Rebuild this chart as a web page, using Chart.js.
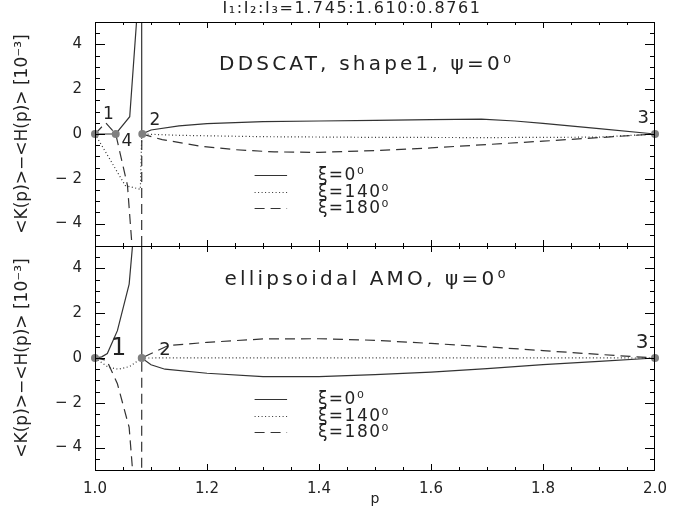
<!DOCTYPE html>
<html>
<head>
<meta charset="utf-8">
<title>K-H difference vs p</title>
<script src="https://cdn.jsdelivr.net/npm/chart.js@4.4.1/dist/chart.umd.min.js"></script>
<style>
  html, body { margin: 0; padding: 0; background: #fff; }
  #wrap { width: 700px; height: 510px; }
</style>
</head>
<body>
<div id="wrap"><canvas id="khChart" width="700" height="510"></canvas></div>
<script>
// values: [p, <K(p)>-<H(p)> in units of 1e-3]
const ddscatXi0 = [[1.000, 0], [1.037, 0], [1.062, 0.77], [1.075, 5.3], [1.0815, 60], [1.0835, 0],
    [1.10, 0.18], [1.15, 0.36], [1.20, 0.46], [1.30, 0.55], [1.40, 0.58], [1.50, 0.61], [1.60, 0.64],
    [1.69, 0.66], [1.75, 0.58], [1.80, 0.47], [1.90, 0.24], [2.00, 0]];
const ddscatXi140 = [[1.000, 0], [1.054, -2.3], [1.081, -2.47], [1.0835, 0], [1.15, -0.06], [1.30, -0.12],
    [1.50, -0.15], [1.70, -0.16], [1.90, -0.14], [2.00, 0]];
const ddscatXi180 = [[1.000, 0], [1.019, 0.5], [1.037, 0], [1.058, -2.3], [1.067, -5.3], [1.0815, -60],
    [1.0835, 0], [1.12, -0.25], [1.19, -0.55], [1.25, -0.7], [1.32, -0.8], [1.40, -0.82], [1.50, -0.74],
    [1.60, -0.62], [1.70, -0.47], [1.80, -0.32], [1.90, -0.16], [2.00, 0]];

const amoXi0 = [[1.000, 0], [1.012, 0.05], [1.022, 0.2], [1.040, 1.22], [1.061, 3.3], [1.068, 5.3],
    [1.0815, 60], [1.0835, 0], [1.10, -0.3], [1.125, -0.5], [1.20, -0.68], [1.30, -0.83], [1.40, -0.83],
    [1.50, -0.74], [1.60, -0.63], [1.70, -0.47], [1.80, -0.3], [1.90, -0.15], [2.00, 0]];
const amoXi140 = [[1.000, 0], [1.024, -0.42], [1.042, -0.5], [1.062, -0.38], [1.0835, 0], [1.30, 0.01],
    [1.60, 0.01], [2.00, 0]];
const amoXi180 = [[1.000, 0], [1.021, -0.1], [1.040, -1.15], [1.061, -3.1], [1.068, -5.3], [1.0815, -60],
    [1.0835, 0], [1.13, 0.55], [1.20, 0.7], [1.30, 0.85], [1.40, 0.86], [1.50, 0.79], [1.60, 0.65],
    [1.70, 0.5], [1.80, 0.33], [1.90, 0.16], [2.00, 0]];

// the grey nodes on the zero line
const ddscatNodes = [[1.000, 0], [1.037, 0], [1.0845, 0], [2.000, 0]];
const amoNodes = [[1.000, 0], [1.0835, 0], [2.000, 0]];

const xTicks = [1.0, 1.2, 1.4, 1.6, 1.8, 2.0];
const yTicks = [-4, -2, 0, 2, 4];
const seriesNames = ['ξ=0⁰', 'ξ=140⁰', 'ξ=180⁰'];
const figureTitle = 'I₁:I₂:I₃=1.745:1.610:0.8761';
const panelTitles = ['DDSCAT, shape1, ψ=0⁰', 'ellipsoidal AMO, ψ=0⁰'];
const yTitle = '<K(p)>−<H(p)> [10⁻³]';

const FONT = 'DejaVu Sans';
const INK = '#222';
const dashes = [[], [1, 2.5], [10, 6]];

const toXY = arr => arr.map(d => ({x: d[0], y: d[1]}));

function lineSet(arr, k, axis) {
    return {
        data: toXY(arr), yAxisID: axis, borderColor: '#333', borderWidth: 1.2,
        borderDash: dashes[k], pointRadius: 0, tension: 0, order: 1
    };
}
function nodeSet(arr, axis) {
    return {
        data: toXY(arr), yAxisID: axis, showLine: false, isNode: true, clip: false,
        pointRadius: 4, pointBackgroundColor: '#808080', pointBorderWidth: 0, order: 0
    };
}

// number labels and in-panel text, placed in data units of each panel
const nodeLabels = [
    {axis: 'yTop', text: '1', p: 1.024, v: 0.86, size: 17},
    {axis: 'yTop', text: '4', p: 1.057, v: -0.33, size: 17},
    {axis: 'yTop', text: '2', p: 1.107, v: 0.62, size: 17},
    {axis: 'yTop', text: '3', p: 1.979, v: 0.71, size: 18},
    {axis: 'yBot', text: '1', p: 1.042, v: 0.41, size: 24},
    {axis: 'yBot', text: '2', p: 1.125, v: 0.33, size: 18},
    {axis: 'yBot', text: '3', p: 1.977, v: 0.69, size: 20}
];

function spacedText(ctx, txt, x, y, spacing, align) {
    ctx.letterSpacing = spacing + 'px';
    ctx.textAlign = align;
    ctx.fillText(txt, x, y);
    ctx.letterSpacing = '0px';
}

const panelPlugin = {
    id: 'panels',
    beforeDatasetDraw(chart, args) {
        const ds = chart.data.datasets[args.index];
        if (ds.isNode) return;
        const ys = args.meta.yScale, a = chart.chartArea, ctx = chart.ctx;
        ctx.save();
        ctx.beginPath();
        ctx.rect(a.left, ys.top, a.right - a.left, ys.bottom - ys.top);
        ctx.clip();
    },
    afterDatasetDraw(chart, args) {
        if (chart.data.datasets[args.index].isNode) return;
        chart.ctx.restore();
    },
    afterDraw(chart) {
        const ctx = chart.ctx, a = chart.chartArea, xs = chart.scales.x;
        ctx.save();
        ctx.strokeStyle = '#000';
        ctx.lineWidth = 1;
        ['yTop', 'yBot'].forEach((id, i) => {
            const ys = chart.scales[id];
            ctx.setLineDash([]);
            ctx.strokeStyle = '#000';
            ctx.lineWidth = 1;
            ctx.strokeRect(a.left + 0.5, ys.top + 0.5, a.right - a.left - 1, ys.bottom - ys.top);
            ctx.beginPath();
            for (let v = -4.5; v <= 4.5; v += 0.5) {
                const y = Math.round(ys.getPixelForValue(v)) + 0.5;
                const len = yTicks.includes(v) ? 10 : 5;
                ctx.moveTo(a.left, y); ctx.lineTo(a.left + len, y);
                ctx.moveTo(a.right, y); ctx.lineTo(a.right - len, y);
            }
            for (let k = 1; k < 20; k++) {
                const p = 1 + k * 0.05;
                const x = Math.round(xs.getPixelForValue(p)) + 0.5;
                const len = k % 4 === 0 ? 6 : 3;
                ctx.moveTo(x, ys.top); ctx.lineTo(x, ys.top + len);
                ctx.moveTo(x, ys.bottom); ctx.lineTo(x, ys.bottom - len);
            }
            ctx.stroke();

            // panel heading
            ctx.fillStyle = INK;
            ctx.textBaseline = 'middle';
            ctx.font = '20px "' + FONT + '"';
            spacedText(ctx, panelTitles[i], xs.getPixelForValue(1.485), ys.getPixelForValue(i === 0 ? 3.1 : 3.5), 3.2, 'center');

            // legend, styles taken from the datasets of this panel
            const sets = chart.data.datasets.filter(d => d.yAxisID === id && !d.isNode);
            sets.forEach((d, k) => {
                const y = Math.round(ys.getPixelForValue(-1.85 - k * 0.72)) + 0.5;
                ctx.strokeStyle = d.borderColor;
                ctx.lineWidth = d.borderWidth;
                ctx.setLineDash(d.borderDash);
                ctx.beginPath();
                ctx.moveTo(xs.getPixelForValue(1.285), y);
                ctx.lineTo(xs.getPixelForValue(1.343), y);
                ctx.stroke();
                ctx.font = '17px "' + FONT + '"';
                spacedText(ctx, seriesNames[k], xs.getPixelForValue(1.398), y, 1.5, 'left');
            });
        });
        ctx.setLineDash([]);
        nodeLabels.forEach(l => {
            const ys = chart.scales[l.axis];
            ctx.font = l.size + 'px "' + FONT + '"';
            ctx.fillStyle = INK;
            ctx.textBaseline = 'middle';
            spacedText(ctx, l.text, xs.getPixelForValue(l.p), ys.getPixelForValue(l.v), 0, 'center');
        });
        // figure title
        ctx.font = '16px "' + FONT + '"';
        ctx.textBaseline = 'middle';
        spacedText(ctx, figureTitle, 352, 9, 1.6, 'center');
        ctx.restore();
    }
};

function yAxis() {
    return {
        type: 'linear', position: 'left', stack: 'panels', stackWeight: 1, offset: false,
        min: -5, max: 5,
        grid: {display: false, drawTicks: false}, border: {display: false},
        afterBuildTicks: s => { s.ticks = yTicks.map(v => ({value: v})); },
        afterFit: s => { s.width = 95; },
        ticks: {
            padding: 13, color: INK, font: {family: FONT, size: 15},
            callback: v => String(v).replace('-', '− ')
        },
        title: {display: true, text: yTitle, color: INK, padding: {top: 12}, font: {family: FONT, size: 17}}
    };
}

window.onload = function () {
    const ctx = document.getElementById('khChart').getContext('2d');
    new Chart(ctx, {
        type: 'line',
        data: {
            datasets: [
                nodeSet(ddscatNodes, 'yTop'), nodeSet(amoNodes, 'yBot'),
                lineSet(ddscatXi0, 0, 'yTop'), lineSet(ddscatXi140, 1, 'yTop'), lineSet(ddscatXi180, 2, 'yTop'),
                lineSet(amoXi0, 0, 'yBot'), lineSet(amoXi140, 1, 'yBot'), lineSet(amoXi180, 2, 'yBot')
            ]
        },
        options: {
            responsive: false,
            animation: false,
            devicePixelRatio: 1,
            layout: {padding: {top: 20, right: 45, left: 0, bottom: 0}},
            plugins: {legend: {display: false}, tooltip: {enabled: false}, title: {display: false}},
            scales: {
                x: {
                    type: 'linear', min: 1, max: 2,
                    grid: {display: false, drawTicks: false}, border: {display: false},
                    afterBuildTicks: s => { s.ticks = xTicks.map(v => ({value: v})); },
                    afterFit: s => { s.height = 40; },
                    ticks: {padding: 10, color: INK, font: {family: FONT, size: 15}, callback: v => v.toFixed(1)},
                    title: {display: true, text: 'p', color: INK, padding: {bottom: 2}, font: {family: FONT, size: 14}}
                },
                // stacked left axes are laid out in reverse, so the lower panel comes first
                yBot: yAxis(),
                yTop: yAxis()
            }
        },
        plugins: [panelPlugin]
    });
};
</script>
</body>
</html>
